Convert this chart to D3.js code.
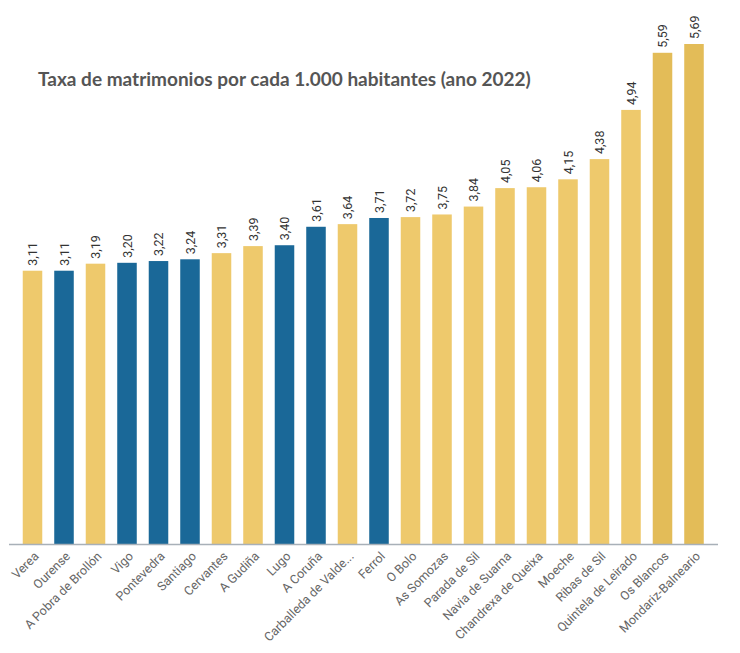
<!DOCTYPE html>
<html><head><meta charset="utf-8">
<script src="https://cdn.jsdelivr.net/npm/d3@7"></script>
<style>body{margin:0;background:#fff;}svg{display:block;}</style>
</head><body>
<svg id="c" width="740" height="653"></svg>
<script>
const categories = ["Verea","Ourense","A Pobra de Brollón","Vigo","Pontevedra","Santiago","Cervantes","A Gudiña","Lugo","A Coruña","Carballeda de Valde...","Ferrol","O Bolo","As Somozas","Parada de Sil","Navia de Suarna","Chandrexa de Queixa","Moeche","Ribas de Sil","Quintela de Leirado","Os Blancos","Mondariz-Balneario"];
const values = [3.11,3.11,3.19,3.20,3.22,3.24,3.31,3.39,3.40,3.61,3.64,3.71,3.72,3.75,3.84,4.05,4.06,4.15,4.38,4.94,5.59,5.69];
const groups = ["m","c","m","c","c","c","m","m","c","c","m","c","m","m","m","m","m","m","m","m","h","h"];
const title = "Taxa de matrimonios por cada 1.000 habitantes (ano 2022)";

const colorMap = {m:"#EEC96C", c:"#1A6898", h:"#E3BC58"};
const svg = d3.select("#c");
const x = d3.scaleBand().domain(categories).range([16.75, 709.75]).paddingInner(0.38).paddingOuter(0.19);
const y = d3.scaleLinear().domain([0, 5.69]).range([544, 44]);
const fmt = v => d3.format(".2f")(v).replace(".", ",");

svg.append("text").attr("x", 38).attr("y", 86).attr("font-family", "Lato, sans-serif")
  .attr("font-weight", "bold").attr("font-size", 19).attr("fill", "#555").text(title);

svg.selectAll("rect.bar").data(values).join("rect").attr("class","bar")
  .attr("x", (d,i) => x(categories[i])).attr("width", x.bandwidth())
  .attr("y", d => y(d)).attr("height", d => y(0) - y(d))
  .attr("fill", (d,i) => colorMap[groups[i]]);

svg.selectAll("text.val").data(values).join("text").attr("class","val")
  .attr("transform", (d,i) => `translate(${x(categories[i]) + x.bandwidth()/2 + 4.5},${y(d) - 5}) rotate(-90)`)
  .attr("font-family", "Roboto, sans-serif").attr("font-size", 12.5).attr("fill", "#333")
  .text(d => fmt(d));

const axis = svg.append("g").attr("transform", `translate(0,${y(0)})`)
  .call(d3.axisBottom(x).tickSize(0).tickPadding(0));
axis.select(".domain").remove();
svg.append("line").attr("x1", 9).attr("x2", 718).attr("y1", y(0)+0.5).attr("y2", y(0)+0.5)
  .attr("stroke", "#A8B0B8").attr("stroke-width", 1.5);
axis.selectAll("text")
  .attr("font-family", "Roboto, sans-serif").attr("font-size", 12.5).attr("fill", "#666")
  .attr("text-anchor", "end").attr("dy", null).attr("y", null)
  .attr("transform", "translate(7,13) rotate(-45)");
</script>
</body></html>
